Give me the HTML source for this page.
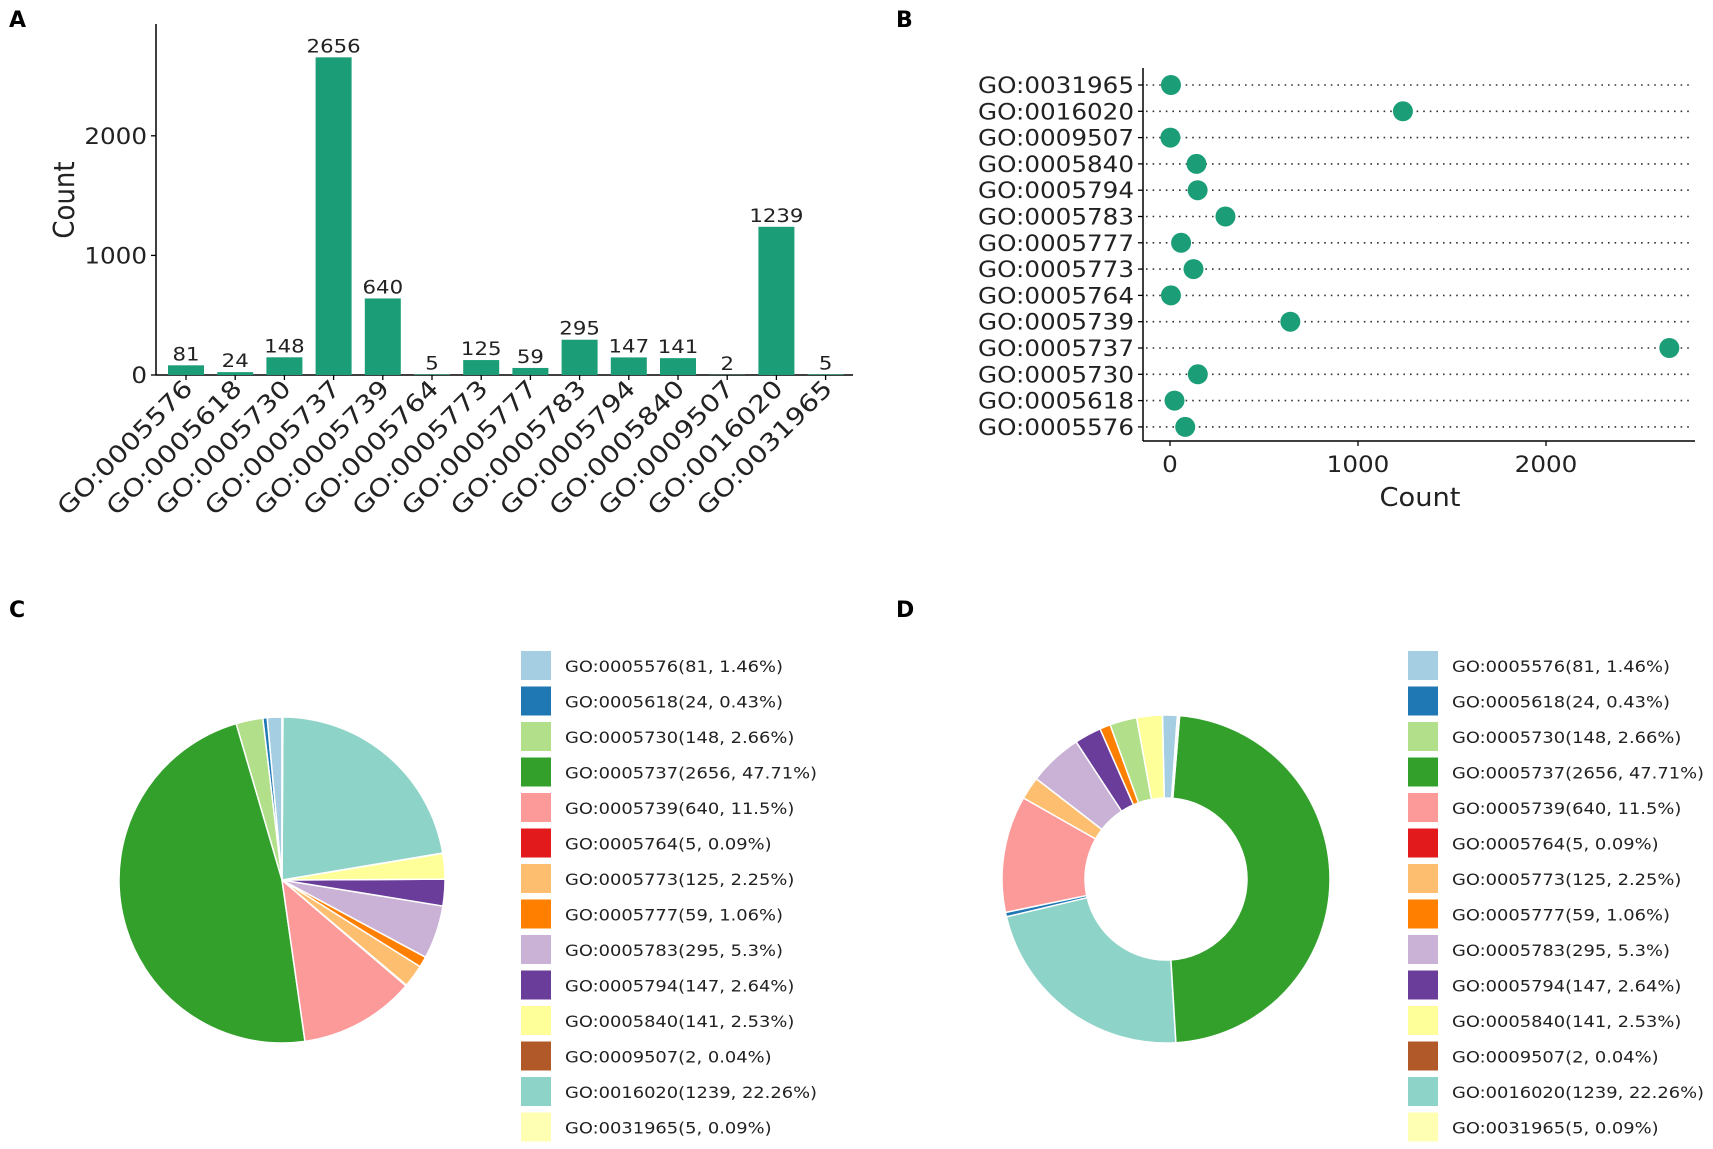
<!DOCTYPE html>
<html><head><meta charset="utf-8">
<style>
html,body{margin:0;padding:0;background:#fff;}
svg{display:block;font-family:"DejaVu Sans","Liberation Sans",sans-serif;}
</style></head>
<body>
<svg id="fig" width="1713" height="1149" viewBox="0 0 1713 1149" xmlns="http://www.w3.org/2000/svg">
<text x="9" y="27" font-size="22" font-weight="bold">A</text>
<text x="896" y="27" font-size="22" font-weight="bold">B</text>
<text x="9" y="617" font-size="22" font-weight="bold">C</text>
<text x="896" y="617" font-size="22" font-weight="bold">D</text>
<g id="pa"></g>
<g id="pb"></g>
<g id="pc"></g>
<g id="pd"></g>
</svg>
<script>
const categories = ["GO:0005576","GO:0005618","GO:0005730","GO:0005737","GO:0005739","GO:0005764","GO:0005773","GO:0005777","GO:0005783","GO:0005794","GO:0005840","GO:0009507","GO:0016020","GO:0031965"];
const counts = [81,24,148,2656,640,5,125,59,295,147,141,2,1239,5];
const percents = ["1.46","0.43","2.66","47.71","11.5","0.09","2.25","1.06","5.3","2.64","2.53","0.04","22.26","0.09"];
const sliceColors = ["#a6cee3","#1f78b4","#b2df8a","#33a02c","#fb9a99","#e31a1c","#fdbf6f","#ff7f00","#cab2d6","#6a3d9a","#ffff99","#b15928","#8dd3c7","#ffffb3"];
const donutOrder = [0,10,2,7,9,8,6,4,1,12,3,5,11,13];
const yTicksA = [0,1000,2000];
const xTicksB = [0,1000,2000];

const NS="http://www.w3.org/2000/svg";
const SX=1.12;
function mk(parent,tag,attrs,text){const e=document.createElementNS(NS,tag);for(const k in attrs)e.setAttribute(k,attrs[k]);if(text!==undefined)e.textContent=text;parent.appendChild(e);return e;}
function txt(parent,x,y,size,anchor,str,rot,sx){
  const s=sx||SX;
  let tr=`translate(${x},${y})`+(rot?` rotate(${rot})`:'')+` scale(${s},1)`;
  return mk(parent,'text',{x:0,y:0,'font-size':size,'text-anchor':anchor,fill:'#222',transform:tr},str);
}
const BAR="#1b9e77";

// Panel A
const pa=document.getElementById('pa');
const aX0=156,aBase=375,aPer=119.6/1000,aFirst=186,aStep=49.2,aW=36;
const ay=v=>aBase-v*aPer, ax=i=>aFirst+i*aStep;
let e;
e=mk(pa,'line',{x1:aX0,y1:24,x2:aX0,y2:aBase,stroke:'#000','stroke-width':1.5});

e=mk(pa,'line',{x1:aX0,y1:aBase,x2:853,y2:aBase,stroke:'#000','stroke-width':1.5});

yTicksA.forEach(t=>{
  mk(pa,'line',{x1:aX0-5,y1:ay(t),x2:aX0,y2:ay(t),stroke:'#000','stroke-width':1.3});
  e=txt(pa,aX0-9,ay(t)+8,22,'end',String(t));
  
});
e=mk(pa,'text',{x:0,y:0,'font-size':26,'text-anchor':'middle',fill:'#222',transform:'translate(74,200) rotate(-90) scale(1,1.1)'},'Count');

categories.forEach((c,i)=>{
  const x=ax(i);
  e=mk(pa,'rect',{x:x-aW/2,y:ay(counts[i]),width:aW,height:aBase-ay(counts[i]),fill:BAR});
  
  e=txt(pa,x,ay(counts[i])-5,19,'middle',String(counts[i]));
  
  mk(pa,'line',{x1:x,y1:aBase,x2:x,y2:aBase+5,stroke:'#000','stroke-width':1.3});
  e=txt(pa,x+8,aBase+15,24,'end',c,-45,1.18);
  
});

// Panel B
const pb=document.getElementById('pb');
const bX0=1143,bTop=68,bBot=441,bZero=1170,bPer=188/1000,bRow0=85,bStep=26.3;
const bx=v=>bZero+v*bPer;
e=mk(pb,'line',{x1:bX0,y1:bTop,x2:bX0,y2:bBot,stroke:'#000','stroke-width':1.5});

e=mk(pb,'line',{x1:bX0,y1:bBot,x2:1695,y2:bBot,stroke:'#000','stroke-width':1.5});

xTicksB.forEach(t=>{
  mk(pb,'line',{x1:bx(t),y1:bBot,x2:bx(t),y2:bBot+5,stroke:'#000','stroke-width':1.3});
  e=txt(pb,bx(t),bBot+31,22,'middle',String(t));
  
});
e=txt(pb,1420,506,26,'middle','Count',0,1.05);

const nB=categories.length;
categories.forEach((c,i)=>{
  const y=bRow0+(nB-1-i)*bStep;
  mk(pb,'line',{x1:bX0-5,y1:y,x2:bX0,y2:y,stroke:'#000','stroke-width':1.3});
  e=mk(pb,'line',{x1:bX0+3,y1:y,x2:1692,y2:y,stroke:'#333','stroke-width':1.6,'stroke-dasharray':'1.6,5'});
  
  e=txt(pb,bX0-9,y+8,22,'end',c);
  
  e=mk(pb,'circle',{cx:bx(counts[i]),cy:y,r:10,fill:BAR});
  
});

// Pie helpers
const total=counts.reduce((a,b)=>a+b,0);
function wedge(g,cx,cy,r,ri,a0,a1,color,name){
  const rad=d=>d*Math.PI/180;
  const p=(rr,a)=>[cx+rr*Math.cos(rad(a)),cy-rr*Math.sin(rad(a))];
  const large=(a1-a0)>180?1:0;
  const [x0,y0]=p(r,a0),[x1,y1]=p(r,a1);
  let d;
  if(ri>0){const [x2,y2]=p(ri,a1),[x3,y3]=p(ri,a0);
    d=`M${x0},${y0}A${r},${r} 0 ${large} 0 ${x1},${y1}L${x2},${y2}A${ri},${ri} 0 ${large} 1 ${x3},${y3}Z`;}
  else d=`M${cx},${cy}L${x0},${y0}A${r},${r} 0 ${large} 0 ${x1},${y1}Z`;
  const el=mk(g,'path',{d:d,fill:color,stroke:'#fff','stroke-width':1.5,'stroke-linejoin':'round'});
  
  
}
function legend(g,x0,y0){
  categories.forEach((c,i)=>{
    const y=y0+i*35.5;
    let r=mk(g,'rect',{x:x0,y:y,width:30,height:29,fill:sliceColors[i]});
    
    
    let t=txt(g,x0+44,y+21,16,'start',`${c}(${counts[i]}, ${percents[i]}%)`,0,1.117);
    
    
  });
}
// Panel C
const pc=document.getElementById('pc');
let ang=90;
categories.forEach((c,i)=>{const sw=counts[i]/total*360;wedge(pc,282,880,163,0,ang,ang+sw,sliceColors[i],'slice-'+c);ang+=sw;});
legend(pc,521,651);
// Panel D
const pd=document.getElementById('pd');
ang=86;
donutOrder.forEach(i=>{const sw=counts[i]/total*360;wedge(pd,1166,879,164,81,ang,ang+sw,sliceColors[i],'donut-slice-'+categories[i]);ang+=sw;});
legend(pd,1408,651);
</script>
</body></html>
